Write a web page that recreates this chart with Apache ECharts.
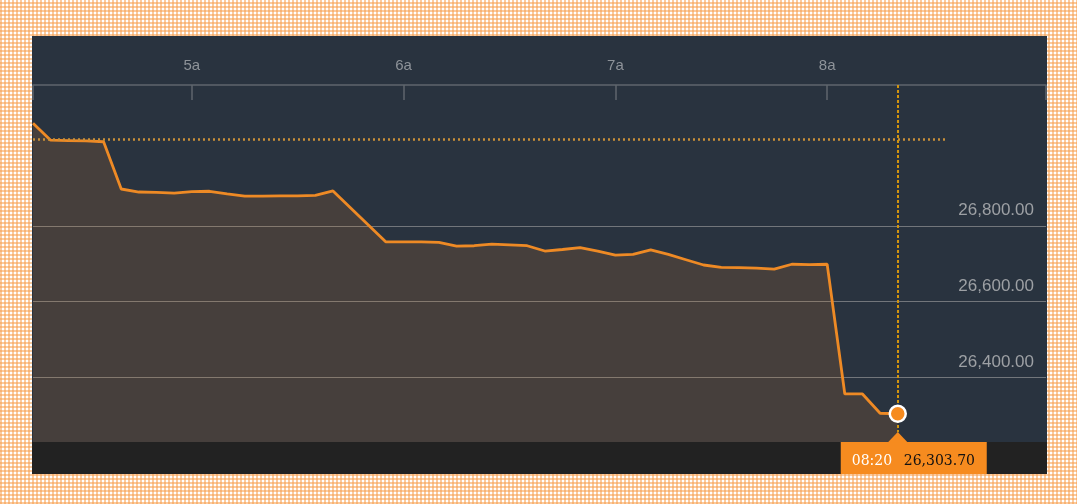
<!DOCTYPE html>
<html>
<head>
<meta charset="utf-8">
<script src="https://cdn.jsdelivr.net/npm/echarts@6/dist/echarts.min.js"></script>
<style>
  html, body { margin: 0; padding: 0; }
  body {
    width: 1077px; height: 504px; position: relative; overflow: hidden;
    background-color: #ffffff;
    background-image:
      repeating-linear-gradient(0deg, rgba(247,160,80,0.55) 0px, rgba(247,160,80,0.55) 2px, transparent 2px, transparent 4px),
      repeating-linear-gradient(90deg, rgba(247,160,80,0.55) 0px, rgba(247,160,80,0.55) 2px, transparent 2px, transparent 4px);
  }
  #panel {
    position: absolute; left: 32px; top: 36px; width: 1015px; height: 438px;
    background: #29333f;
  }
  #chart { width: 1015px; height: 438px; }
</style>
</head>
<body>
<div id="panel"><div id="chart"></div></div>
<script>
// ---- data ----
const times = [
  '04:15','04:20','04:25','04:30','04:35','04:40','04:45','04:50','04:55','05:00',
  '05:05','05:10','05:15','05:20','05:25','05:30','05:35','05:40','05:45','05:50',
  '05:55','06:00','06:05','06:10','06:15','06:20','06:25','06:30','06:35','06:40',
  '06:45','06:50','06:55','07:00','07:05','07:10','07:15','07:20','07:25','07:30',
  '07:35','07:40','07:45','07:50','07:55','08:00','08:05','08:10','08:15','08:20'
];
const values = [
  27072, 27027, 27026, 27025, 27023, 26898, 26890, 26889, 26887, 26891,
  26892, 26885, 26879, 26879, 26880, 26880, 26881, 26893, 26848, 26803,
  26758, 26758, 26758, 26757, 26747, 26748, 26752, 26750, 26748, 26734,
  26738, 26743, 26734, 26723, 26725, 26737, 26725, 26711, 26697, 26691,
  26690, 26689, 26686, 26699, 26698, 26699, 26356, 26356, 26305, 26303.70
];
const previousClose = 27030;
const xTickTimes = ['05:00', '06:00', '07:00', '08:00'];
const xTickLabels = ['5a', '6a', '7a', '8a'];
const yTickValues = [26400, 26600, 26800];
const yTickLabels = ['26,400.00', '26,600.00', '26,800.00'];
const xRange = ['04:15', '09:02'];
const yRange = [26229, 27173];
const refLineEnd = '08:34';

// ---- helpers ----
const toMin = t => { const p = t.split(':'); return (+p[0]) * 60 + (+p[1]); };
const seriesData = times.map((t, i) => [toMin(t), values[i]]);
const last = seriesData[seriesData.length - 1];
const lastTime = times[times.length - 1];
const lastValue = values[values.length - 1];

const chart = echarts.init(document.getElementById('chart'), null, { renderer: 'canvas' });

const axisGray = '#5f666e';
chart.setOption({
  animation: false,
  backgroundColor: 'transparent',
  grid: { left: 1, right: 1, top: 49, bottom: 32 },
  xAxis: {
    type: 'value', position: 'top',
    min: toMin(xRange[0]), max: toMin(xRange[1]),
    axisLine: { show: true, lineStyle: { color: axisGray, width: 1.5 } },
    axisTick: {
      show: true, inside: true, length: 15,
      customValues: [toMin(xRange[0])].concat(xTickTimes.map(toMin), [toMin(xRange[1])]),
      lineStyle: { color: axisGray, width: 1.5 }
    },
    axisLabel: {
      customValues: xTickTimes.map(toMin),
      margin: 12,
      color: '#8e9399',
      fontSize: 15,
      fontFamily: 'Liberation Sans, Arial, sans-serif',
      formatter: v => { const i = xTickTimes.map(toMin).indexOf(v); return i >= 0 ? xTickLabels[i] : ''; }
    },
    splitLine: { show: false }
  },
  yAxis: {
    type: 'value', position: 'right',
    min: yRange[0], max: yRange[1],
    axisLine: { show: false },
    axisTick: { show: false, customValues: yTickValues },
    axisLabel: {
      inside: true,
      customValues: yTickValues,
      margin: 12,
      color: '#9da0a4',
      fontSize: 17,
      lineHeight: 17,
      verticalAlign: 'bottom',
      padding: [0, 0, 7, 0],
      fontFamily: 'Liberation Sans, Arial, sans-serif',
      formatter: v => { const i = yTickValues.indexOf(v); return i >= 0 ? yTickLabels[i] : ''; }
    },
    splitLine: { show: true, lineStyle: { color: '#72767b', width: 1.2 } }
  },
  series: [
    {
      type: 'line',
      data: seriesData,
      symbol: 'none',
      smooth: false,
      z: 2,
      lineStyle: { color: '#ee8a25', width: 2.8 },
      areaStyle: { color: 'rgba(245,140,40,0.2)', origin: 'start' },
      markLine: {
        silent: true,
        symbol: 'none',
        z: 5,
        label: { show: false },
        emphasis: { disabled: true },
        data: [
          [
            { coord: [toMin(xRange[0]), previousClose], lineStyle: { color: '#c99038', width: 2.5, type: [2, 3] } },
            { coord: [toMin(refLineEnd), previousClose] }
          ],
          [
            { coord: [last[0], yRange[1]], lineStyle: { color: '#d2950f', width: 2, type: [3, 2] } },
            { coord: [last[0], 26255] }
          ]
        ]
      }
    },
    {
      type: 'scatter',
      z: 10,
      data: [last],
      symbol: 'circle',
      symbolSize: 16,
      itemStyle: { color: '#f68b1f', borderColor: '#ffffff', borderWidth: 2.5, opacity: 1 },
      silent: true
    }
  ]
});

// annotation box below the latest point
const px = chart.convertToPixel({ xAxisIndex: 0, yAxisIndex: 0 }, last);
const gridBottom = chart.convertToPixel({ yAxisIndex: 0 }, yRange[0]);
const W = 1015, H = 438;
const boxLeft = px[0] - 57, boxW = 146, boxTop = gridBottom, boxH = H - gridBottom;
const valueText = lastValue.toLocaleString('en-US', { minimumFractionDigits: 2, maximumFractionDigits: 2 });

chart.setOption({
  graphic: [
    {
      type: 'rect', z: 1, silent: true,
      shape: { x: 0, y: gridBottom, width: W, height: H - gridBottom },
      style: { fill: '#222222' }
    },
    {
      type: 'rect', z: 20, silent: true,
      shape: { x: boxLeft, y: boxTop, width: boxW, height: boxH },
      style: { fill: '#f68b1f' }
    },
    {
      type: 'polygon', z: 20, silent: true,
      shape: { points: [[px[0] - 10, boxTop + 0.5], [px[0], boxTop - 10], [px[0] + 10, boxTop + 0.5]] },
      style: { fill: '#f68b1f' }
    },
    {
      type: 'text', z: 21, silent: true,
      x: boxLeft + 11, y: boxTop + boxH / 2 + 3,
      style: { text: lastTime, fill: '#ffffff', font: '14px "DejaVu Serif", serif', verticalAlign: 'middle', align: 'left' }
    },
    {
      type: 'text', z: 21, silent: true,
      x: boxLeft + 63, y: boxTop + boxH / 2 + 3,
      style: { text: valueText, fill: '#111111', font: '14px "DejaVu Serif", serif', verticalAlign: 'middle', align: 'left' }
    }
  ]
});
</script>
</body>
</html>
